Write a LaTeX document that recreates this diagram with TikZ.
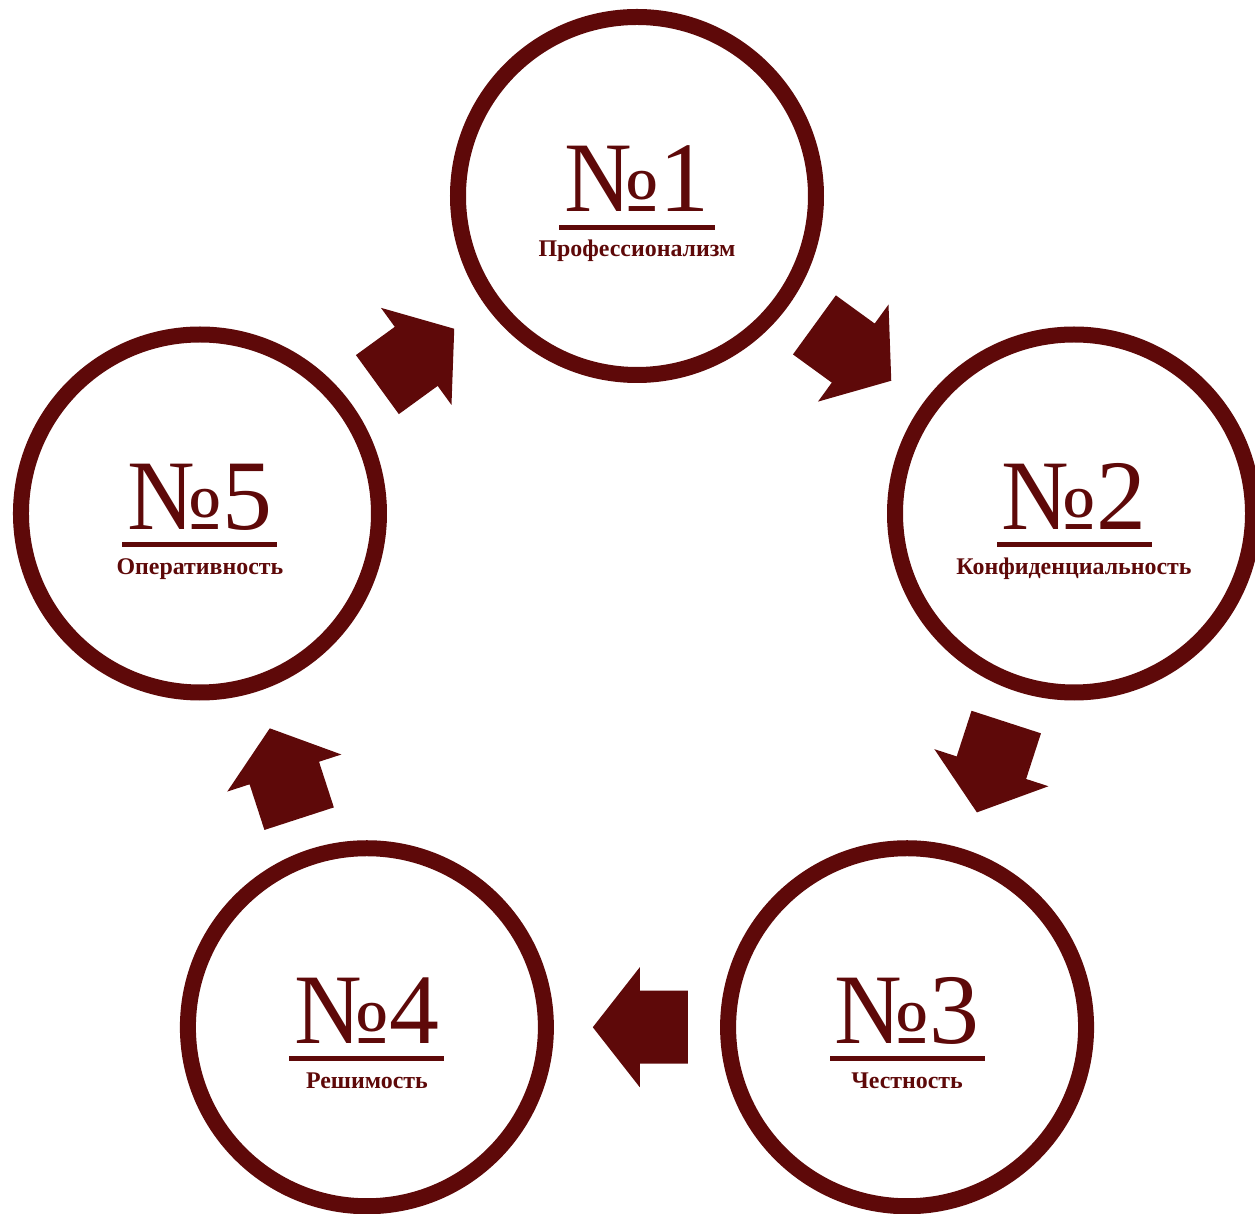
\documentclass[tikz,border=0pt]{standalone}
\usepackage{fontspec}
\setmainfont{Liberation Serif}
\usetikzlibrary{positioning,calc}
\definecolor{wine}{RGB}{94,9,9}

\begin{document}
\begin{tikzpicture}[
  ring/.style={circle, draw=wine, line width=0.4cm, minimum size=8.95cm, inner sep=0pt},
  numtext/.style={text=wine, font=\fontsize{71}{71}\selectfont, anchor=base, inner sep=0pt},
  nametext/.style={text=wine, font=\bfseries\fontsize{17}{17}\selectfont, anchor=base, inner sep=0pt},
  bar/.style={fill=wine, minimum width=3.875cm, minimum height=0.125cm, inner sep=0pt},
  blockarrow/.pic={
    \fill[wine] (-1.27,-0.9125) -- (-0.07,-0.9125) -- (-0.07,-1.5) -- (1.105,0)
      -- (-0.07,1.5) -- (-0.07,0.9125) -- (-1.27,0.9125) -- cycle;
  }
]
  % Fix the page size
  \useasboundingbox (-15.925,-13.9625) rectangle (15.45,16.3875);

  % Draw the five rings
  \node[ring] (c1) at (90:11.4875) {};
  \node[ring] (c2) at (18:11.4875) {};
  \node[ring] (c3) at (-54:11.4875) {};
  \node[ring] (c4) at (-126:11.4875) {};
  \node[ring] (c5) at (162:11.4875) {};

  % Draw the numbers
  \node[numtext] (n1) at ([yshift=-0.4cm]c1.center) {№1};
  \node[numtext] (n2) at ([yshift=-0.4cm]c2.center) {№2};
  \node[numtext] (n3) at ([yshift=-0.4cm]c3.center) {№3};
  \node[numtext] (n4) at ([yshift=-0.4cm]c4.center) {№4};
  \node[numtext] (n5) at ([yshift=-0.4cm]c5.center) {№5};

  % Draw the bars under the numbers
  \node[bar] (u1) at ([yshift=-0.7875cm]c1.center) {};
  \node[bar] (u2) at ([yshift=-0.7875cm]c2.center) {};
  \node[bar] (u3) at ([yshift=-0.7875cm]c3.center) {};
  \node[bar] (u4) at ([yshift=-0.7875cm]c4.center) {};
  \node[bar] (u5) at ([yshift=-0.7875cm]c5.center) {};

  % Draw the names
  \node[nametext] (t1) at ([yshift=-1.525cm]c1.center) {Профессионализм};
  \node[nametext] (t2) at ([yshift=-1.525cm]c2.center) {Конфиденциальность};
  \node[nametext] (t3) at ([yshift=-1.525cm]c3.center) {Честность};
  \node[nametext] (t4) at ([yshift=-1.525cm]c4.center) {Решимость};
  \node[nametext] (t5) at ([yshift=-1.525cm]c5.center) {Оперативность};

  % Draw the arrows between the rings
  \pic[rotate=-36] at ($(c1)!0.5!(c2)$) {blockarrow};
  \pic[rotate=-108] at ($(c2)!0.5!(c3)$) {blockarrow};
  \pic[rotate=180] at ($(c3)!0.5!(c4)$) {blockarrow};
  \pic[rotate=108] at ($(c4)!0.5!(c5)$) {blockarrow};
  \pic[rotate=36] at ($(c5)!0.5!(c1)$) {blockarrow};
\end{tikzpicture}
\end{document}
